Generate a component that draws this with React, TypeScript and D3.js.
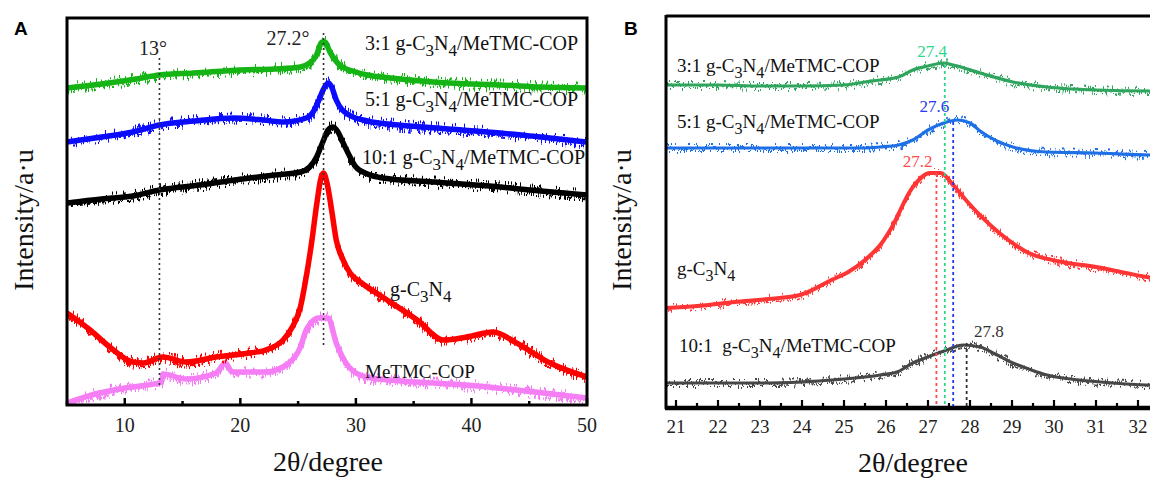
import React from "react";
import * as d3 from "d3";

// ---------- Panel A data (2θ in degrees, intensity a.u.) ----------
const a31: [number, number][] = [[5,317],[8,321],[11,326],[13,330],[16,332],[20,335],[23,336],[25.2,338],[26,342],[26.5,348],[27.1,363],[27.3,363],[27.8,352],[28.6,340],[30,333],[31,330],[33,327],[36.7,323],[40,321],[42.5,320],[46,318],[50,317]];
const a51: [number, number][] = [[5,263],[8,268],[10.7,273],[13,280],[16,284],[19.4,287],[22,285],[23.7,283],[25.7,287],[26.3,293],[26.8,305],[27.2,316],[27.6,322],[27.9,318],[28.3,305],[29.4,290],[31,284],[33.7,280],[38,276],[42.5,272],[46,268],[50,263]];
const a101: [number, number][] = [[5,202],[8,206],[10.7,209],[13,215],[16.5,220],[20.8,227],[23,230],[25.2,233],[26,238],[26.6,248],[27.1,262],[27.6,275],[28,278],[28.4,274],[28.9,262],[29.5,248],[30,238],[31,231],[32.3,227],[36.7,223],[42.5,218],[46,214],[50,210]];
const aGCN: [number, number][] = [[5,92],[7,75],[8.7,58],[10.7,43],[11.6,42],[13.3,48],[15.3,43],[17.9,48],[20.8,52],[22.2,55],[23.7,65],[24.5,78],[25.2,98],[25.7,128],[26.2,165],[26.6,200],[27.0,228],[27.2,232],[27.5,222],[27.9,195],[28.3,165],[28.9,145],[29.5,132],[30.5,122],[32.3,108],[35.3,85],[37.6,65],[39.6,68],[41.9,73],[43.9,62],[46.8,42],[50,28]];
const aCOP: [number, number][] = [[5,2],[7.8,12],[10,17],[13.2,23],[13.3,31],[15.3,26],[17.9,32],[18.7,42],[19.3,33],[22.2,33],[24.2,42],[25.2,58],[25.7,75],[26.1,82],[26.8,87],[27.6,87],[28.3,62],[29.4,38],[30.9,28],[35.2,23],[39.6,20],[43.9,15],[47,11],[50,7]];
const aTicks = [10, 20, 30, 40, 50];
const aMinor = [5, 15, 25, 35, 45];

// ---------- Panel B data ----------
const b31: [number, number][] = [[20.76,322],[22,322],[23,321],[24,321],[25,322],[25.5,325],[25.86,327],[26.3,330],[26.64,337],[27.0,341],[27.36,344],[27.6,342],[28.24,334],[29.02,325],[29.83,320],[31,317],[32.3,316],[33.5,316]];
const b51: [number, number][] = [[20.76,259],[22,259],[23,259],[24,259],[25,259],[25.5,259],[25.86,260],[26.3,262],[26.64,267],[27.0,277],[27.45,285],[27.7,287],[28.0,284],[28.24,276],[29.02,260],[29.83,255],[31,254],[32.3,252],[33.5,252]];
const bGCN: [number, number][] = [[20.76,99],[21.5,101],[22.4,105],[23.2,108],[23.95,112],[24.7,127],[25.1,135],[25.5,147],[25.9,164],[26.1,177],[26.64,220],[27.05,234],[27.3,234],[27.6,222],[27.9,207],[28.7,174],[29.4,154],[30.2,145],[31,140],[32.2,130],[33.5,122]];
const b101: [number, number][] = [[20.76,24],[22,24],[23.2,24],[24.4,26],[25.5,30],[25.86,32],[26.26,35],[26.64,44],[27.05,51],[27.45,57],[27.83,62],[28.24,60],[28.6,53],[29.02,44],[29.4,38],[29.83,32],[30.6,27],[31.4,24],[32.2,22],[33.5,21]];
const bTicks = [21, 22, 23, 24, 25, 26, 27, 28, 29, 30, 31, 32];
const bMinor = [21.5, 22.5, 23.5, 24.5, 25.5, 26.5, 27.5, 28.5, 29.5, 30.5, 31.5, 32.5];
const bPeaks = [
  { x: 27.2, top: 234, label: "27.2", color: "#ff4a4a", lx: 26.75, ly: 240 },
  { x: 27.4, top: 342, label: "27.4", color: "#2dd68c", lx: 27.1, ly: 350 },
  { x: 27.6, top: 285, label: "27.6", color: "#2a36f0", lx: 27.15, ly: 295 },
  { x: 27.92, top: 64, label: "27.8", color: "#333333", lx: 28.45, ly: 70 },
];

const SERIF = "Liberation Serif";

function Label({ x, y, pre, size = 20, color = "#111" }: { x: number; y: number; pre: string; size?: number; color?: string }) {
  return (
    <text x={x} y={y} fontFamily={SERIF} fontSize={size} fill={color}>
      {pre}g-C<tspan dy={6} fontSize={size * 0.85}>3</tspan>
      <tspan dy={-6}>N</tspan>
      <tspan dy={6} fontSize={size * 0.85}>4</tspan>
      <tspan dy={-6}>/MeTMC-COP</tspan>
    </text>
  );
}

function Jitter({ id, scale, freq }: { id: string; scale: number; freq: string }) {
  // rendering effect only: roughens the stroke like a noisy diffractogram trace
  return (
    <filter id={id} filterUnits="userSpaceOnUse" x={0} y={0} width={1150} height={479}>
      <feTurbulence type="turbulence" baseFrequency={freq} numOctaves={2} seed={3} result="t" />
      <feColorMatrix in="t" type="matrix" values="0 0 0 0 0.5  0 2 0 0 -0.1  0 0 0 0 0  0 0 0 0 1" result="m" />
      <feDisplacementMap in="SourceGraphic" in2="m" scale={scale} xChannelSelector="R" yChannelSelector="G" />
    </filter>
  );
}

export default function App() {
  const xA = d3.scaleLinear().domain([5, 50]).range([67, 587]);
  const yA = d3.scaleLinear().domain([0, 387]).range([405, 18]);
  const lineA = d3.line<[number, number]>().x(d => xA(d[0])).y(d => yA(d[1])).curve(d3.curveMonotoneX);

  const xB = d3.scaleLinear().domain([21, 32]).range([676, 1138]);
  const yB = d3.scaleLinear().domain([0, 391]).range([407, 16]);
  const lineB = d3.line<[number, number]>().x(d => xB(d[0])).y(d => yB(d[1])).curve(d3.curveMonotoneX);

  const seriesA = [
    { d: a31, c: "#14b414" },
    { d: a51, c: "#0a0aff" },
    { d: a101, c: "#000000" },
    { d: aCOP, c: "#f57ef5" },
    { d: aGCN, c: "#ff0000" },
  ];
  const seriesB = [
    { d: b31, c: "#2ea45c", w: 3.2 },
    { d: b51, c: "#1f6fe6", w: 3.2 },
    { d: bGCN, c: "#ff3535", w: 4 },
    { d: b101, c: "#474747", w: 3.2 },
  ];

  return (
    <svg width={1150} height={479} style={{ position: "absolute", left: 0, top: 0, background: "#fff" }}>
      <defs>
        <clipPath id="clipA"><rect x={67} y={18} width={520} height={387} /></clipPath>
        <clipPath id="clipB"><rect x={666} y={16} width={500} height={391} /></clipPath>
        <Jitter id="jA" scale={11} freq="0.9 0.03" />
        <Jitter id="jB" scale={9} freq="0.45 0.03" />
      </defs>

      {/* ---------------- Panel A ---------------- */}
      <text x={14} y={35} fontFamily="Liberation Sans" fontWeight="bold" fontSize={19}>A</text>
      <g clipPath="url(#clipA)">
        {seriesA.map((s, i) => (
          <g key={i}>
            <path d={lineA(s.d) || ""} fill="none" stroke={s.c} strokeWidth={5.5} />
            <path d={lineA(s.d) || ""} fill="none" stroke={s.c} strokeWidth={3.2} filter="url(#jA)" />
          </g>
        ))}
      </g>
      <line x1={xA(13)} x2={xA(13)} y1={yA(347)} y2={yA(17)} stroke="#333" strokeWidth={1.6} strokeDasharray="2,3" />
      <line x1={xA(27.2)} x2={xA(27.2)} y1={yA(372)} y2={yA(60)} stroke="#333" strokeWidth={1.6} strokeDasharray="2,3" />
      <text x={153} y={55} textAnchor="middle" fontFamily={SERIF} fontSize={20} fill="#222">13°</text>
      <text x={288} y={45} textAnchor="middle" fontFamily={SERIF} fontSize={20} fill="#222">27.2°</text>
      <Label x={365} y={50} pre="3:1 " />
      <Label x={365} y={106} pre="5:1 " />
      <Label x={362} y={164} pre="10:1 " />
      <text x={390} y={296} fontFamily={SERIF} fontSize={20} fill="#111">
        g-C<tspan dy={6} fontSize={17}>3</tspan><tspan dy={-6}>N</tspan><tspan dy={6} fontSize={17}>4</tspan>
      </text>
      <text x={365} y={378} fontFamily={SERIF} fontSize={19} fill="#111">MeTMC-COP</text>
      <rect x={67} y={18} width={520} height={387} fill="none" stroke="#000" strokeWidth={3} />
      {aTicks.map(t => (
        <g key={t}>
          <line x1={xA(t)} x2={xA(t)} y1={405} y2={398} stroke="#000" strokeWidth={2.5} />
          <text x={xA(t)} y={432} textAnchor="middle" fontFamily={SERIF} fontSize={20} fill="#222">{t}</text>
        </g>
      ))}
      {aMinor.map(t => (
        <line key={t} x1={xA(t)} x2={xA(t)} y1={405} y2={401} stroke="#000" strokeWidth={2.5} />
      ))}
      <text x={328} y={471} textAnchor="middle" fontFamily={SERIF} fontSize={28} fill="#111">2θ/degree</text>
      <text transform="translate(33,220) rotate(-90)" textAnchor="middle" fontFamily={SERIF} fontSize={28} fill="#111">Intensity/a·u</text>

      {/* ---------------- Panel B ---------------- */}
      <text x={624} y={35} fontFamily="Liberation Sans" fontWeight="bold" fontSize={19}>B</text>
      <g clipPath="url(#clipB)">
        {seriesB.map((s, i) => (
          <g key={i}>
            <path d={lineB(s.d) || ""} fill="none" stroke={s.c} strokeWidth={s.w} />
            <path d={lineB(s.d) || ""} fill="none" stroke={s.c} strokeWidth={1.8} filter="url(#jB)" />
          </g>
        ))}
      </g>
      {bPeaks.map(p => (
        <g key={p.label}>
          <line x1={xB(p.x)} x2={xB(p.x)} y1={yB(p.top)} y2={yB(0)} stroke={p.color} strokeWidth={1.8} strokeDasharray="3,3" />
          <text x={xB(p.lx)} y={yB(p.ly)} textAnchor="middle" fontFamily={SERIF} fontSize={17} fill={p.color}>{p.label}</text>
        </g>
      ))}
      <Label x={677} y={72} pre="3:1 " size={19} />
      <Label x={677} y={128} pre="5:1 " size={19} />
      <text x={677} y={275} fontFamily={SERIF} fontSize={19} fill="#111">
        g-C<tspan dy={6} fontSize={16}>3</tspan><tspan dy={-6}>N</tspan><tspan dy={6} fontSize={16}>4</tspan>
      </text>
      <Label x={679} y={352} pre={"10:1\u00a0\u00a0"} size={19} />
      <line x1={666} x2={1150} y1={16} y2={16} stroke="#000" strokeWidth={3} />
      <line x1={666} x2={666} y1={15} y2={409} stroke="#000" strokeWidth={3} />
      <line x1={665} x2={1150} y1={408} y2={408} stroke="#000" strokeWidth={4.5} />
      {bTicks.map(t => (
        <g key={t}>
          <line x1={xB(t)} x2={xB(t)} y1={408} y2={400} stroke="#000" strokeWidth={2.2} />
          <text x={xB(t)} y={433} textAnchor="middle" fontFamily={SERIF} fontSize={19} fill="#222">{t}</text>
        </g>
      ))}
      {bMinor.map(t => (
        <line key={t} x1={xB(t)} x2={xB(t)} y1={408} y2={403} stroke="#000" strokeWidth={2.2} />
      ))}
      <text x={913} y={472} textAnchor="middle" fontFamily={SERIF} fontSize={28} fill="#111">2θ/degree</text>
      <text transform="translate(631,220) rotate(-90)" textAnchor="middle" fontFamily={SERIF} fontSize={28} fill="#111">Intensity/a·u</text>
    </svg>
  );
}
